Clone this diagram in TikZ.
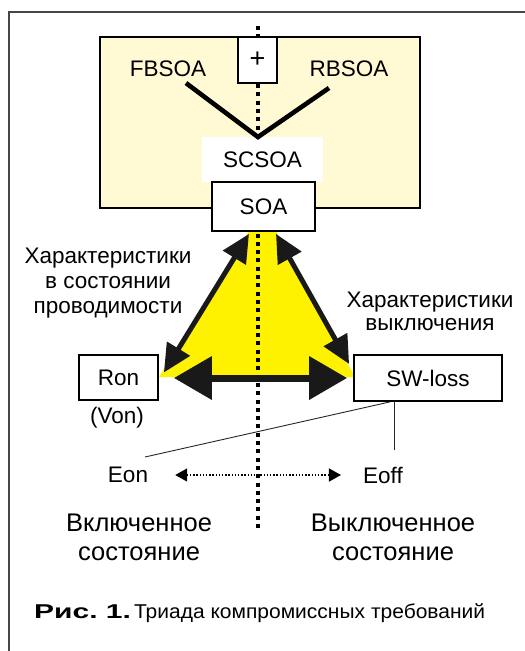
\documentclass[tikz,border=0pt]{standalone}
\usepackage{fontspec}
\usepackage{graphicx}
\setmainfont{Liberation Sans}
\usetikzlibrary{arrows.meta}
\definecolor{paleY}{RGB}{255,249,212}
\definecolor{brightY}{RGB}{255,242,0}
\definecolor{frameG}{RGB}{70,70,70}
\begin{document}
\begin{tikzpicture}[x=1pt,y=-1pt,
  font=\fontsize{22.5}{25}\selectfont,
  box/.style={draw=black, line width=1.8pt, fill=white, inner sep=0pt},
  lbl/.style={inner sep=0pt, align=center},
  thinline/.style={line width=0.9pt, draw=black!85},
  diagarrow/.style={line width=5pt, draw=black!90, {Triangle[length=28pt,width=26pt]}-{Triangle[length=28pt,width=26pt]}},
  horarrow/.style={line width=7pt, draw=black!90, {Triangle[length=38pt,width=42pt]}-{Triangle[length=38pt,width=42pt]}},
  dotarrow/.style={line width=1.4pt, dash pattern=on 1.4pt off 1.8pt, {Triangle[length=12pt,width=13pt]}-{Triangle[length=12pt,width=13pt]}},
  axisdots/.style={line width=3.5pt, dash pattern=on 4pt off 4.3pt},
 ]
\useasboundingbox (0,0) rectangle (525,651);
% frame
\draw[frameG, line width=1.4pt] (525,12) -- (9,12) -- (9,651);
% pale yellow SOA area
\node[box, fill=paleY, minimum width=320pt, minimum height=171pt] (area) at (260,122.5) {};
% bright yellow triangle
\fill[brightY] (249,231) -- (276,231) -- (355,377) -- (159,377) -- cycle;
% dotted axis
\draw[axisdots] (258,26) -- (258,532);
% plus box
\node[box, line width=1.2pt, minimum width=39pt, minimum height=46pt, font=\fontsize{27}{27}\selectfont] (plus) at (257.5,60) {+};
% SCSOA
\node[fill=white, inner sep=0pt, minimum width=121pt, minimum height=45pt] (scsoa) at (262.5,159.5) {SCSOA};
% SOA
\node[box, minimum width=103pt, minimum height=49pt] (soa) at (263.5,206.5) {SOA};
% FBSOA / RBSOA
\node[lbl] (fbsoa) at (168,69) {FBSOA};
\node[lbl] (rbsoa) at (349,69) {RBSOA};
\coordinate (vl) at (186,83);
\coordinate (vtx) at (258,137);
\coordinate (vr) at (329,88);
\draw[line width=4.6pt] (vl) -- (vtx) -- (vr);
% Ron, SW-loss
\node[box, minimum width=79pt, minimum height=45pt] (ron) at (118.5,377.5) {Ron};
\node[box, minimum width=148pt, minimum height=46pt] (sw) at (428,378) {SW-loss};
\node[lbl] (von) at (117,418) {(Von)};
% arrows
\draw[diagarrow] ([xshift=-14.5pt,yshift=-2pt]soa.south) -- ([xshift=5pt,yshift=5pt]ron.east);
\draw[diagarrow] ([xshift=12.5pt,yshift=-2pt]soa.south) -- ([xshift=-4pt,yshift=14pt]sw.west);
\draw[horarrow] ([xshift=15pt,yshift=-0.5pt]ron.east) -- ([xshift=-6pt]sw.west);
% labels
\node[lbl, font=\fontsize{22.5}{25}\selectfont] (lcond) at (108,283) {Характеристики\\в состоянии\\проводимости};
\node[lbl, font=\fontsize{22.5}{23}\selectfont] (lsw) at (430,311.5) {Характеристики\\выключения};
% Eon / Eoff
\node[lbl] (eon) at (128,475) {Eon};
\node[lbl] (eoff) at (383,475) {Eoff};
\draw[dotarrow] ([xshift=27pt]eon.east) -- ([xshift=-22pt]eoff.west);
\coordinate (eonline) at (145,457);
\coordinate (eoffline) at (394,450);
\draw[thinline] ([xshift=-38pt]sw.south) -- (eonline);
\draw[thinline] ([xshift=-34pt]sw.south) -- (eoffline);
% states
\node[lbl, font=\fontsize{25.5}{29}\selectfont] (onst) at (139,537.5) {Включенное\\состояние};
\node[lbl, font=\fontsize{25.5}{29}\selectfont] (offst) at (393,537.5) {Выключенное\\состояние};
% caption
\node[anchor=west, inner sep=0pt, font=\fontsize{20}{22}\selectfont] (cap) at (34,613) {\scalebox{1.5}[1]{\bfseries Рис.~1.}\hspace{3pt}\scalebox{1.05}[1]{Триада компромиссных требований}};
\end{tikzpicture}
\end{document}
